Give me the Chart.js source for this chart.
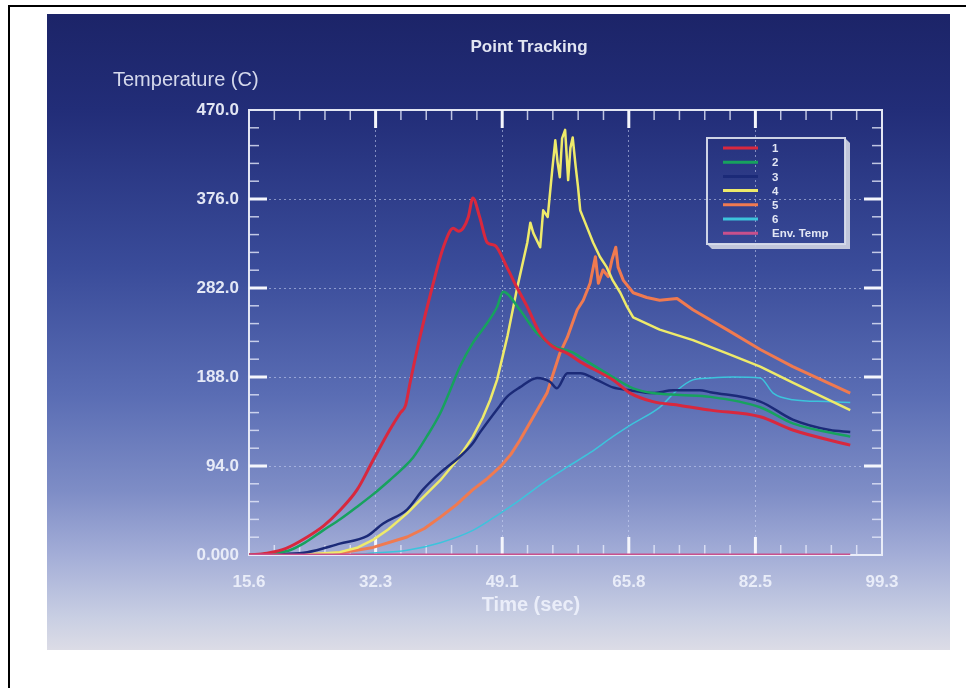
<!DOCTYPE html>
<html>
<head>
<meta charset="utf-8">
<script src="https://cdn.jsdelivr.net/npm/chart.js@4.4.1/dist/chart.umd.min.js"></script>
<style>
  html, body { margin: 0; padding: 0; background: #fff; }
  #wrap { position: relative; width: 966px; height: 688px; }
</style>
</head>
<body>
<div id="wrap"><canvas id="diagram" width="966" height="688"></canvas></div>
<script>
// axis ticks
const xTickValues = [15.6, 32.34, 49.08, 65.82, 82.56, 99.3];
const xTickLabels = ['15.6', '32.3', '49.1', '65.8', '82.5', '99.3'];
const yTickValues = [0, 94, 188, 282, 376, 470];
const yTickLabels = ['0.000', '94.0', '188.0', '282.0', '376.0', '470.0'];

const seriesNames = ['1', '2', '3', '4', '5', '6', 'Env. Temp'];
const seriesColors = ['#d8283e', '#17a25e', '#1b2a78', '#eeea6a', '#f07a50', '#3cc4dc', '#c8508c'];
const seriesWidths = [3, 2.5, 2.5, 2.5, 3, 1.5, 3];
const seriesJagged = [false, false, false, true, true, false, false];

// [time (sec), temperature (C)]
const series1 = [
  [15.6, 0], [18.0, 2], [20.5, 7], [23.3, 19], [25.5, 31], [27.6, 47], [29.9, 69],
  [32.0, 100], [34.2, 132], [35.6, 150], [36.3, 158], [36.9, 182], [38.2, 230],
  [39.8, 282], [41.3, 325], [42.6, 345], [43.3, 342], [43.9, 345], [44.6, 357],
  [45.2, 377], [46.1, 357], [47.1, 330], [48.1, 327], [49.7, 304], [51.0, 283],
  [52.4, 262], [54.1, 234], [55.8, 220], [57.7, 213], [59.4, 204], [63.7, 185],
  [66.0, 171], [69.0, 162], [72.6, 158], [76.6, 153], [83.2, 146], [87.5, 132],
  [95.1, 116]
];
const series2 = [
  [15.6, 0], [19.0, 2], [21.0, 5], [23.0, 13], [25.4, 26], [27.7, 38], [29.9, 51],
  [32.0, 64], [34.2, 79], [36.0, 92], [37.3, 103], [39.1, 125], [40.9, 150], [42.2, 174],
  [43.5, 199], [45.2, 224], [47.1, 245], [48.4, 262], [49.2, 278], [51.4, 259],
  [53.7, 234], [55.8, 221], [58.4, 214], [59.4, 209], [63.7, 188], [66.4, 176],
  [69.0, 171], [72.6, 169], [76.6, 167], [83.2, 156], [87.5, 139], [95.1, 125]
];
const series3 = [
  [15.6, 0], [20.0, 1], [23.3, 3], [27.6, 12], [31.2, 20], [33.3, 33], [36.5, 48],
  [38.6, 69], [40.9, 87], [43.5, 104], [45.2, 118], [46.1, 129], [48.8, 158],
  [49.7, 167], [51.4, 177], [53.7, 187], [55.4, 183], [56.3, 176], [57.7, 192],
  [59.4, 192], [61.6, 185], [63.7, 177], [66.0, 174], [69.0, 171], [71.7, 174],
  [75.2, 174], [76.6, 172], [83.2, 162], [87.5, 143], [92.4, 132], [95.1, 130]
];
const series4 = [
  [15.6, 0], [24.0, 1], [27.6, 3], [30.0, 8], [32.0, 16], [34.0, 27], [36.5, 44],
  [38.5, 60], [40.9, 79], [43.1, 100], [45.2, 125], [46.5, 145], [47.5, 164], [48.4, 185],
  [49.8, 232], [51.0, 280], [52.4, 330], [52.8, 351], [53.2, 340], [54.1, 325], [54.5, 364],
  [55.1, 357], [55.7, 407], [56.1, 438], [56.4, 415], [56.7, 399], [57.0, 440],
  [57.4, 449], [57.8, 396], [58.1, 430], [58.4, 441], [58.8, 410], [59.1, 389],
  [59.4, 364], [60.3, 346], [61.1, 330], [62.0, 315], [62.9, 304], [63.7, 290],
  [64.7, 277], [65.6, 262], [66.4, 251], [69.9, 238], [74.3, 227], [78.8, 213],
  [83.2, 199], [87.5, 182], [95.1, 153]
];
const series5 = [
  [15.6, 0], [24.0, 0.5], [27.6, 2], [32.0, 8], [36.5, 19], [38.8, 28], [40.9, 40],
  [43.0, 53], [45.2, 69], [47.0, 80], [48.8, 93], [50.2, 106], [51.4, 121], [53.2, 146], [55.0, 171],
  [56.7, 213], [57.7, 230], [59.0, 259], [59.8, 269], [60.7, 287], [61.4, 315],
  [61.8, 287], [62.4, 301], [63.1, 294], [63.6, 312], [64.1, 325], [64.4, 304],
  [65.1, 290], [66.4, 277], [68.2, 272], [69.9, 269], [72.2, 271], [74.3, 259],
  [78.8, 238], [83.2, 217], [87.5, 199], [95.1, 171]
];
const series6 = [
  [15.6, 0], [27.6, 0], [32.0, 2], [36.5, 5], [40.9, 13], [45.2, 26], [48.8, 44],
  [51.4, 58], [55.0, 79], [57.7, 93], [60.7, 108], [63.7, 125], [66.4, 139],
  [69.9, 156], [72.2, 174], [74.3, 185], [76.6, 187], [79.6, 188], [83.2, 187],
  [84.9, 171], [87.5, 164], [92.0, 162], [95.1, 161]
];
const envTemp = [[15.6, 0], [95.1, 0]];

const allSeries = [series1, series2, series3, series4, series5, series6, envTemp];

const box = { left: 47, top: 14, right: 950, bottom: 650 };
const textColor = 'rgba(236,239,250,0.95)';

const backdrop = {
  id: 'backdrop',
  beforeDraw(chart) {
    const c = chart.ctx;
    c.save();
    c.fillStyle = '#fff';
    c.fillRect(0, 0, chart.width, chart.height);
    c.fillStyle = '#000';
    c.fillRect(8, 5, chart.width - 8, 2);
    c.fillRect(8, 5, 2, chart.height - 5);
    const g = c.createLinearGradient(0, box.top, 0, box.bottom);
    g.addColorStop(0, '#1c2468');
    g.addColorStop(0.15, '#222d78');
    g.addColorStop(0.4, '#3a4c9a');
    g.addColorStop(0.6, '#5a6db4');
    g.addColorStop(0.75, '#7e8dc6');
    g.addColorStop(0.85, '#a3add7');
    g.addColorStop(0.95, '#c9cfe3');
    g.addColorStop(1, '#dcdce6');
    c.fillStyle = g;
    c.fillRect(box.left, box.top, box.right - box.left, box.bottom - box.top);
    c.restore();
  }
};

const frame = {
  id: 'frame',
  beforeDatasetsDraw(chart) {
    const c = chart.ctx, a = chart.chartArea;
    const xs = chart.scales.x, ys = chart.scales.y;
    c.save();
    c.strokeStyle = 'rgba(238,240,250,0.95)';
    c.lineWidth = 2;
    c.strokeRect(a.left, a.top, a.right - a.left, a.bottom - a.top);
    const tick = (x1, y1, x2, y2, w) => {
      c.lineWidth = w;
      c.beginPath(); c.moveTo(x1, y1); c.lineTo(x2, y2); c.stroke();
    };
    for (let i = 0; i < xTickValues.length; i++) {
      const px = xs.getPixelForValue(xTickValues[i]);
      const py = ys.getPixelForValue(yTickValues[i]);
      if (i > 0 && i < xTickValues.length - 1) {
        c.strokeStyle = 'rgba(245,246,252,1)';
        tick(px, a.top, px, a.top + 18, 3);
        tick(px, a.bottom, px, a.bottom - 18, 3);
        tick(a.left, py, a.left + 18, py, 3);
        tick(a.right, py, a.right - 18, py, 3);
      }
      if (i < xTickValues.length - 1) {
        c.strokeStyle = 'rgba(230,234,250,0.8)';
        for (let k = 1; k < 5; k++) {
          const mx = xs.getPixelForValue(xTickValues[i] + (xTickValues[i + 1] - xTickValues[i]) * k / 5);
          const my = ys.getPixelForValue(yTickValues[i] + (yTickValues[i + 1] - yTickValues[i]) * k / 5);
          tick(mx, a.top, mx, a.top + 10, 1.5);
          tick(mx, a.bottom, mx, a.bottom - 10, 1.5);
          tick(a.left, my, a.left + 10, my, 1.5);
          tick(a.right, my, a.right - 10, my, 1.5);
        }
      }
    }
    c.restore();
  }
};

const labels = {
  id: 'labels',
  afterDraw(chart) {
    const c = chart.ctx;
    c.save();
    c.fillStyle = textColor;
    c.textBaseline = 'middle';
    c.textAlign = 'center';
    c.font = 'bold 17px "Liberation Sans", Arial, sans-serif';
    c.fillText('Point Tracking', 529, 47);
    c.font = 'bold 20px "Liberation Sans", Arial, sans-serif';
    c.fillText('Time (sec)', 531, 605);
    c.textAlign = 'left';
    c.fillStyle = 'rgba(222,226,242,0.95)';
    c.font = '20px "Liberation Sans", Arial, sans-serif';
    c.fillText('Temperature (C)', 113, 80);

    // legend box with raised edge
    const lx = 707, ly = 138, lw = 138, lh = 106;
    c.fillStyle = 'rgba(200,205,222,0.95)';
    c.beginPath();
    c.moveTo(lx + lw, ly);
    c.lineTo(lx + lw + 5, ly + 5);
    c.lineTo(lx + lw + 5, ly + lh + 5);
    c.lineTo(lx + 5, ly + lh + 5);
    c.lineTo(lx, ly + lh);
    c.lineTo(lx + lw, ly + lh);
    c.closePath();
    c.fill();
    c.strokeStyle = 'rgba(215,220,235,0.95)';
    c.lineWidth = 2;
    c.strokeRect(lx, ly, lw, lh);
    c.font = 'bold 11.5px "Liberation Sans", Arial, sans-serif';
    chart.data.datasets.forEach((ds, i) => {
      const y = 148 + i * 14.2;
      c.strokeStyle = ds.borderColor;
      c.lineWidth = 3;
      c.beginPath(); c.moveTo(723, y); c.lineTo(758, y); c.stroke();
      c.fillStyle = textColor;
      c.fillText(ds.label, 772, y + 1);
    });
    c.restore();
  }
};

const tickFont = { family: '"Liberation Sans", Arial, sans-serif', size: 17, weight: 'bold' };

new Chart(document.getElementById('diagram').getContext('2d'), {
  type: 'line',
  data: {
    datasets: allSeries.map((s, i) => ({
      label: seriesNames[i],
      data: s.map(p => ({ x: p[0], y: p[1] })),
      borderColor: seriesColors[i],
      borderWidth: seriesWidths[i],
      pointRadius: 0,
      cubicInterpolationMode: seriesJagged[i] ? 'default' : 'monotone',
      tension: 0,
      borderJoinStyle: 'round',
      fill: false,
      order: i === 6 ? -1 : i
    }))
  },
  options: {
    responsive: false,
    animation: false,
    devicePixelRatio: 1,
    layout: { padding: { left: 47, top: 110, right: 84, bottom: 0 } },
    plugins: { legend: { display: false }, tooltip: { enabled: false }, title: { display: false } },
    scales: {
      x: {
        type: 'linear',
        min: 15.6,
        max: 99.3,
        afterFit: s => { s.height = 133; },
        afterBuildTicks: s => { s.ticks = xTickValues.map(v => ({ value: v })); },
        ticks: {
          color: textColor,
          font: tickFont,
          padding: 17,
          maxRotation: 0,
          autoSkip: false,
          callback: (v, i) => xTickLabels[i]
        },
        grid: {
          drawTicks: false,
          lineWidth: 1,
          color: ctx => (ctx.index === 0 || ctx.index === xTickValues.length - 1) ? 'rgba(0,0,0,0)' : 'rgba(205,215,245,0.55)'
        },
        border: { display: false, dash: [2, 3] }
      },
      y: {
        type: 'linear',
        min: 0,
        max: 470,
        afterFit: s => { s.width = 202; },
        afterBuildTicks: s => { s.ticks = yTickValues.map(v => ({ value: v })); },
        ticks: {
          color: textColor,
          font: tickFont,
          padding: 10,
          autoSkip: false,
          callback: (v, i) => yTickLabels[i]
        },
        grid: {
          drawTicks: false,
          lineWidth: 1,
          color: ctx => (ctx.index === 0 || ctx.index === yTickValues.length - 1) ? 'rgba(0,0,0,0)' : 'rgba(205,215,245,0.55)'
        },
        border: { display: false, dash: [2, 3] }
      }
    }
  },
  plugins: [backdrop, frame, labels]
});
</script>
</body>
</html>
